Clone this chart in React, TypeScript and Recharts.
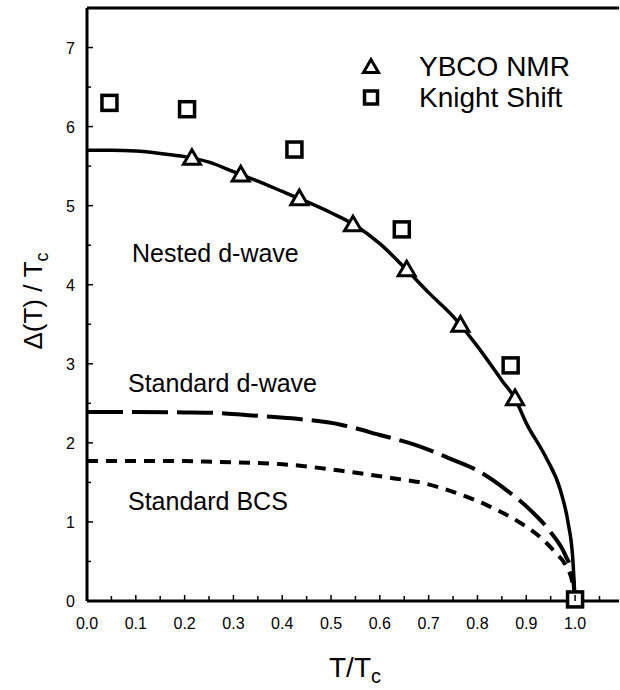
import { ComposedChart, Customized, Legend, Line, ReferenceLine, Scatter, XAxis, YAxis } from "recharts";

const font = '"Liberation Sans", Arial, Helvetica, sans-serif';

// fitted curves, gap vs reduced temperature
const nestedT = [0, 0.05, 0.1, 0.15, 0.2, 0.25, 0.3, 0.35, 0.4, 0.45, 0.5, 0.55, 0.6, 0.65, 0.7, 0.75, 0.8, 0.85, 0.877, 0.9, 0.94, 0.97, 0.986, 0.995, 1.0];
const nestedGap = [5.7, 5.7, 5.69, 5.66, 5.62, 5.55, 5.43, 5.31, 5.18, 5.05, 4.91, 4.75, 4.52, 4.22, 3.9, 3.6, 3.22, 2.79, 2.56, 2.25, 1.82, 1.4, 0.98, 0.56, 0];

const dwaveT = [0, 0.1, 0.2, 0.26, 0.33, 0.42, 0.52, 0.6, 0.68, 0.74, 0.8, 0.86, 0.91, 0.95, 0.98, 0.995, 1.0];
const dwaveGap = [2.39, 2.39, 2.385, 2.38, 2.35, 2.31, 2.23, 2.1, 1.96, 1.81, 1.65, 1.4, 1.14, 0.87, 0.58, 0.32, 0];

const bcsT = [0, 0.1, 0.2, 0.26, 0.4, 0.53, 0.63, 0.69, 0.75, 0.82, 0.89, 0.93, 0.96, 0.98, 0.995, 1.0];
const bcsGap = [1.77, 1.77, 1.77, 1.76, 1.73, 1.64, 1.55, 1.49, 1.38, 1.21, 0.98, 0.8, 0.61, 0.46, 0.22, 0];

// measured points
const ybcoT = [0.215, 0.315, 0.435, 0.545, 0.655, 0.765, 0.877];
const ybcoGap = [5.6, 5.39, 5.09, 4.76, 4.19, 3.49, 2.56];
const knightT = [0.046, 0.205, 0.425, 0.645, 0.868, 1.0];
const knightGap = [6.3, 6.22, 5.71, 4.7, 2.98, 0.02];

// axis ticks
const xMajor = [0, 0.1, 0.2, 0.3, 0.4, 0.5, 0.6, 0.7, 0.8, 0.9, 1.0];
const xMinor = [0.05, 0.15, 0.25, 0.35, 0.45, 0.55, 0.65, 0.75, 0.85, 0.95, 1.05];
const xTickLabels = ["0.0", "0.1", "0.2", "0.3", "0.4", "0.5", "0.6", "0.7", "0.8", "0.9", "1.0"];
const yMajor = [0, 1, 2, 3, 4, 5, 6, 7];
const yMinor = [0.5, 1.5, 2.5, 3.5, 4.5, 5.5, 6.5];
const yTickLabels = ["0", "1", "2", "3", "4", "5", "6", "7"];

const toPoints = (ts: number[], gs: number[]) => ts.map((t, i) => ({ t, gap: gs[i] }));
const nested = toPoints(nestedT, nestedGap);
const dwave = toPoints(dwaveT, dwaveGap);
const bcs = toPoints(bcsT, bcsGap);
const ybco = toPoints(ybcoT, ybcoGap);
const knight = toPoints(knightT, knightGap);

const Triangle = ({ cx, cy, half }: { cx: number; cy: number; half: number }) => (
  <path
    d={`M${cx},${cy - half} L${cx + half},${cy + half * 0.72} L${cx - half},${cy + half * 0.72} Z`}
    fill="#fff"
    stroke="#000"
    strokeWidth={3}
  />
);

const Square = ({ cx, cy, half }: { cx: number; cy: number; half: number }) => (
  <rect x={cx - half} y={cy - half} width={half * 2} height={half * 2} fill="#fff" stroke="#000" strokeWidth={3.5} />
);

const XTick = ({ x, y, payload }: any) => {
  const i = xMajor.indexOf(payload.value);
  return (
    <g>
      <line x1={x} y1={y} x2={x} y2={y - (i >= 0 ? 6 : 5)} stroke="#000" strokeWidth={1.5} />
      {i >= 0 && (
        <text x={x} y={y + 28} textAnchor="middle" fontSize={16} fontFamily={font} fill="#000">
          {xTickLabels[i]}
        </text>
      )}
    </g>
  );
};

const YTick = ({ x, y, payload }: any) => {
  const i = yMajor.indexOf(payload.value);
  return (
    <g>
      <line x1={x} y1={y} x2={x + (i >= 0 ? 6 : 4)} y2={y} stroke="#000" strokeWidth={1.5} />
      {i >= 0 && (
        <text x={x - 12} y={y + 6} textAnchor="end" fontSize={16} fontFamily={font} fill="#000">
          {yTickLabels[i]}
        </text>
      )}
    </g>
  );
};

const legendItems = [
  { name: "YBCO NMR", icon: "tri" },
  { name: "Knight Shift", icon: "sq" },
];

const LegendBox = () => (
  <div style={{ fontFamily: font, fontSize: 28, color: "#000" }}>
    {legendItems.map((it) => (
      <div key={it.name} style={{ display: "flex", alignItems: "center", height: 31 }}>
        <svg width={26} height={31}>
          {it.icon === "tri" ? <Triangle cx={13} cy={16} half={7.5} /> : <Square cx={13} cy={15.5} half={6.5} />}
        </svg>
        <span style={{ marginLeft: 35, lineHeight: "31px", whiteSpace: "nowrap" }}>{it.name}</span>
      </div>
    ))}
  </div>
);

const Annotations = () => (
  <g fontFamily={font} fill="#000">
    <text x={132} y={262} fontSize={25}>Nested d-wave</text>
    <text x={128} y={392} fontSize={25}>Standard d-wave</text>
    <text x={128} y={510} fontSize={25}>Standard BCS</text>
    <text x={355} y={677} fontSize={28} textAnchor="middle">
      T/T<tspan fontSize={20} dy={6}>c</tspan>
    </text>
    <text x={42} y={301} fontSize={26} textAnchor="middle" transform="rotate(-90 42 301)">
      Δ(T) / T<tspan fontSize={18} dy={6}>c</tspan>
    </text>
  </g>
);

export default function App() {
  return (
    <div style={{ position: "absolute", left: 0, top: 0, width: 620, height: 690, background: "#fff" }}>
      <ComposedChart width={620} height={690} margin={{ top: 8, right: 1, bottom: 0, left: 0 }}>
        <XAxis
          type="number"
          dataKey="t"
          domain={[0, 1.09]}
          ticks={[...xMajor, ...xMinor].sort((a, b) => a - b)}
          interval={0}
          tickSize={0}
          tickMargin={0}
          tickLine={false}
          tick={<XTick />}
          axisLine={{ stroke: "#000", strokeWidth: 3 }}
          height={89}
        />
        <YAxis
          type="number"
          dataKey="gap"
          domain={[0, 7.5]}
          ticks={[...yMajor, ...yMinor].sort((a, b) => a - b)}
          interval={0}
          tickSize={0}
          tickMargin={0}
          tickLine={false}
          tick={<YTick />}
          axisLine={{ stroke: "#000", strokeWidth: 3 }}
          width={87}
        />
        <ReferenceLine y={7.5} stroke="#000" strokeWidth={3} />
        <Line data={bcs} dataKey="gap" type="monotone" stroke="#000" strokeWidth={4} strokeDasharray="11 8" dot={false} legendType="none" isAnimationActive={false} />
        <Line data={dwave} dataKey="gap" type="monotone" stroke="#000" strokeWidth={4} strokeDasharray="36 9" dot={false} legendType="none" isAnimationActive={false} />
        <Line data={nested} dataKey="gap" type="monotone" stroke="#000" strokeWidth={3.5} dot={false} legendType="none" isAnimationActive={false} />
        <Scatter name="YBCO NMR" data={ybco} dataKey="gap" shape={(p: any) => <Triangle cx={p.cx} cy={p.cy} half={8.5} />} isAnimationActive={false} />
        <Scatter name="Knight Shift" data={knight} dataKey="gap" shape={(p: any) => <Square cx={p.cx} cy={p.cy} half={7.5} />} isAnimationActive={false} />
        <Legend
          layout="vertical"
          align="center"
          verticalAlign="middle"
          content={<LegendBox />}
          wrapperStyle={{ left: 358, top: 51, width: 260 }}
        />
        <Customized component={Annotations} />
      </ComposedChart>
    </div>
  );
}
